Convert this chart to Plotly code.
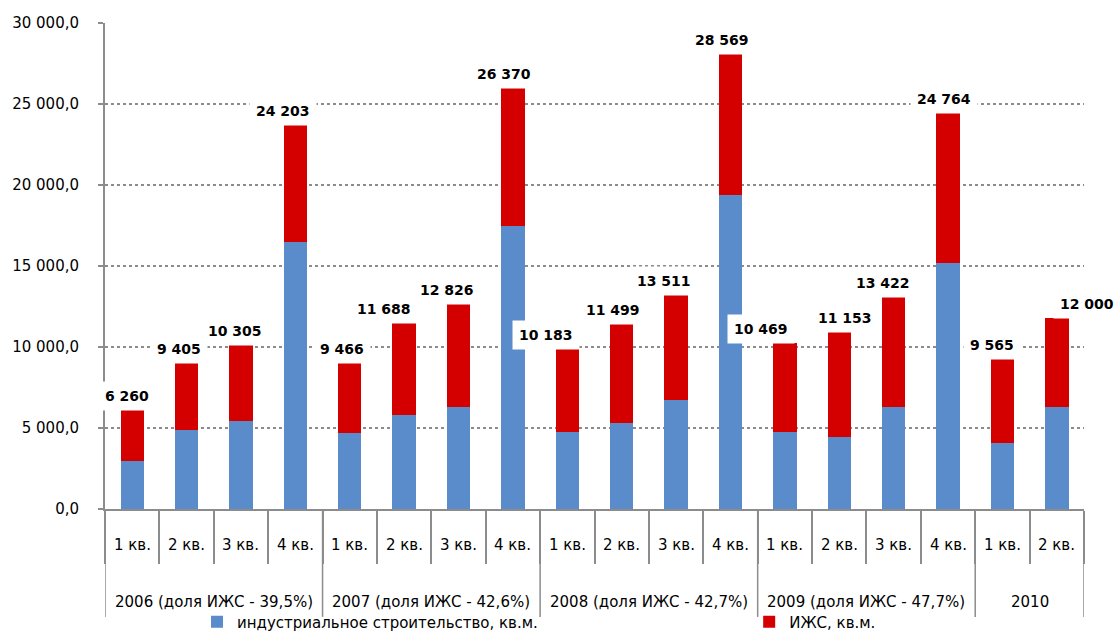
import plotly.graph_objects as go

# ---- data ----
years = ["2006 (доля ИЖС - 39,5%)", "2007 (доля ИЖС - 42,6%)", "2008 (доля ИЖС - 42,7%)",
         "2009 (доля ИЖС - 47,7%)", "2010"]
quarters_per_year = [4, 4, 4, 4, 2]
quarter_labels = ["1 кв.", "2 кв.", "3 кв.", "4 кв.", "1 кв.", "2 кв.", "3 кв.", "4 кв.",
                  "1 кв.", "2 кв.", "3 кв.", "4 кв.", "1 кв.", "2 кв.", "3 кв.", "4 кв.",
                  "1 кв.", "2 кв."]
industrial = [2960, 4880, 5430, 16480, 4690, 5800, 6300, 17470, 4750, 5310, 6730, 19380,
              4750, 4450, 6300, 15190, 4070, 6300]
izhs = [3150, 4130, 4690, 7220, 4320, 5680, 6350, 8520, 5130, 6110, 6480, 8710,
        5500, 6480, 6790, 9260, 5190, 5490]
total_labels = ["6 260", "9 405", "10 305", "24 203", "9 466", "11 688", "12 826", "26 370",
                "10 183", "11 499", "13 511", "28 569", "10 469", "11 153", "13 422", "24 764",
                "9 565", "12 000"]
y_tickvals = [0, 5000, 10000, 15000, 20000, 25000, 30000]
y_ticktext = ["0,0", "5 000,0", "10 000,0", "15 000,0", "20 000,0", "25 000,0", "30 000,0"]

# ---- styles ----
label_xshift = [-5, -8, -6, -12, -8, -20, -12, -9, -21, -9, -12, -8, -24, 6, -11, -4, -10, 30]
BLUE = "#5A8BCB"
RED = "#D40000"
GRAY = "#8C8C8C"
FONT = "DejaVu Sans"

n = len(quarter_labels)
xs = list(range(n))

fig = go.Figure()
fig.add_trace(go.Bar(x=xs, y=industrial, name="индустриальное строительство, кв.м.",
                     marker=dict(color=BLUE, line=dict(width=0)), width=0.43, legend="legend"))
fig.add_trace(go.Bar(x=xs, y=izhs, name="ИЖС, кв.м.",
                     marker=dict(color=RED, line=dict(width=0)), width=0.43, legend="legend2"))

annotations = []
for i in range(n):
    annotations.append(dict(x=xs[i], y=industrial[i] + izhs[i], xref="x", yref="y",
                            text=total_labels[i], showarrow=False, yshift=14, yanchor="middle",
                            xshift=label_xshift[i], bgcolor="white", borderpad=6,
                            font=dict(family=FONT, size=14, color="black", weight="bold")))
    annotations.append(dict(x=xs[i], y=-0.074, xref="x", yref="paper", text=quarter_labels[i],
                            showarrow=False, yanchor="middle",
                            font=dict(family=FONT, size=15, color="black")))

shapes = []
start = 0
bounds = [-0.5]
for yi, cnt in enumerate(quarters_per_year):
    center = start + (cnt - 1) / 2
    annotations.append(dict(x=center, y=-0.191, xref="x", yref="paper", text=years[yi],
                            showarrow=False, yanchor="middle",
                            font=dict(family=FONT, size=15, color="black")))
    start += cnt
    bounds.append(start - 0.5)
for b in bounds:
    shapes.append(dict(type="line", xref="x", yref="paper", x0=b, x1=b, y0=0, y1=-0.222,
                       line=dict(color=GRAY, width=1.5)))

legend_common = dict(orientation="h", xanchor="left", yanchor="middle", y=-0.2325,
                     font=dict(family=FONT, size=15, color="black"), bgcolor="rgba(0,0,0,0)")

fig.update_layout(
    barmode="stack",
    width=1115, height=634,
    margin=dict(l=105, r=31, t=23, b=125, autoexpand=False),
    paper_bgcolor="white", plot_bgcolor="white",
    font=dict(family=FONT, size=15, color="black"),
    annotations=annotations,
    shapes=shapes,
    showlegend=True,
    legend=dict(x=0.094, **legend_common),
    legend2=dict(x=0.658, **legend_common),
    xaxis=dict(range=[-0.5, n - 0.5], showgrid=False, zeroline=False, showline=True,
               linecolor=GRAY, linewidth=2, tickmode="array",
               tickvals=[i - 0.5 for i in range(n + 1)], ticks="outside", ticklen=53,
               tickcolor=GRAY, tickwidth=1.5, showticklabels=False),
    yaxis=dict(range=[0, 30000], tickmode="array", tickvals=y_tickvals, ticktext=y_ticktext,
               showgrid=True, gridcolor=GRAY, griddash="dot", gridwidth=1.5,
               zeroline=False, showline=True, linecolor=GRAY, linewidth=2,
               ticks="outside", ticklen=5, tickcolor=GRAY, tickwidth=1.5,
               ticklabelstandoff=16, tickfont=dict(family=FONT, size=15, color="black")),
)

fig.write_html("out.html")
